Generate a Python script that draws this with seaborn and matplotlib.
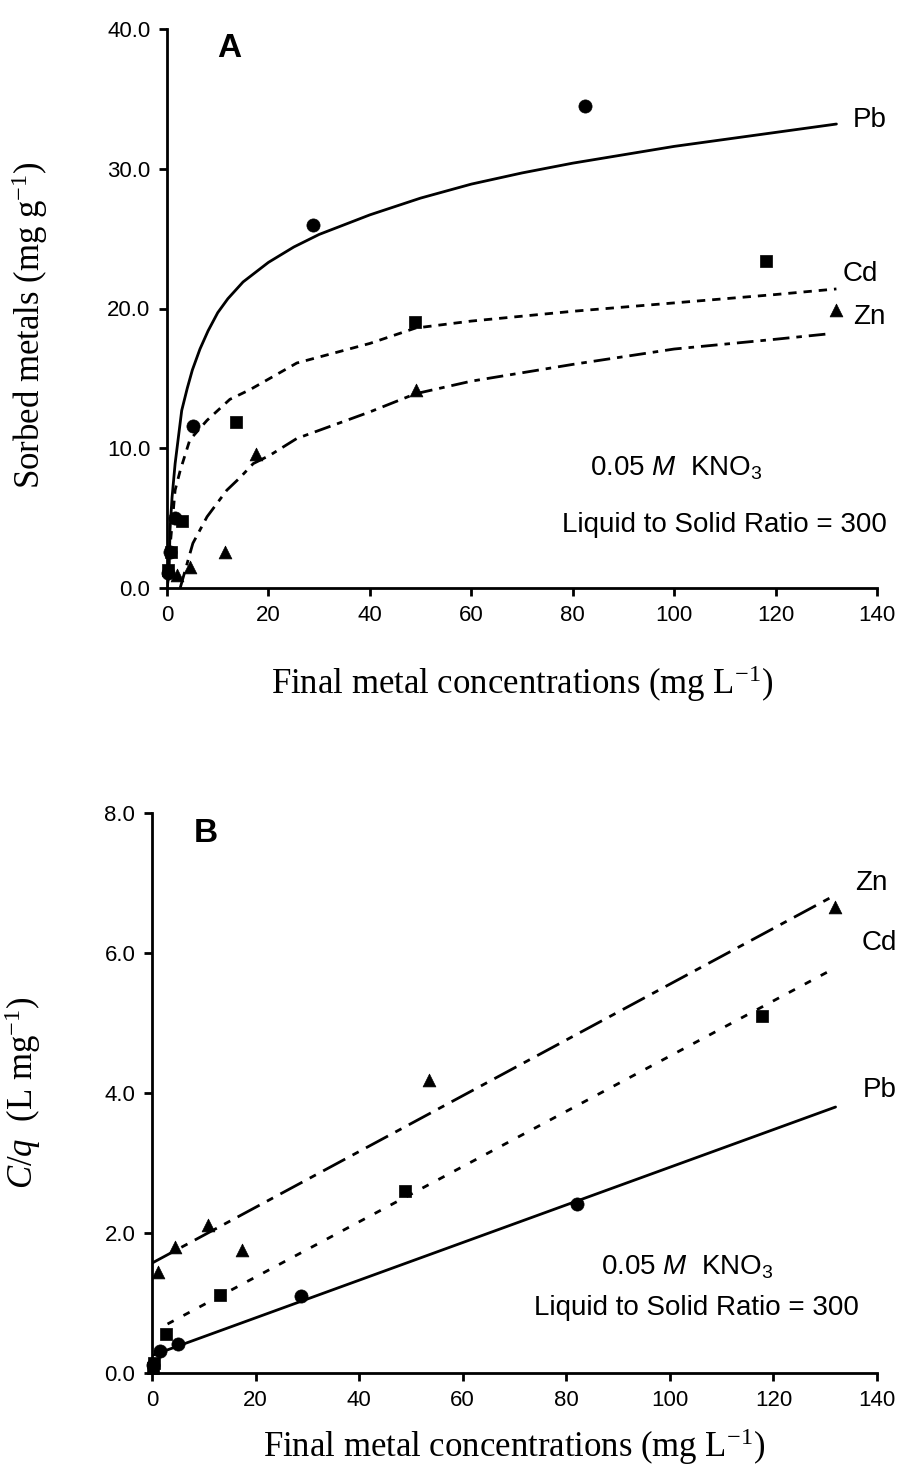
import numpy as np
import pandas as pd
import matplotlib
matplotlib.use("Agg")
import matplotlib.pyplot as plt
import seaborn as sns

# %% dados

# Painel A - pontos medidos (C final, metal sorvido)
pb_a_x = [0.1, 0.5, 1.6, 5.2, 28.8, 82.4]
pb_a_y = [1.1, 2.6, 5.0, 11.6, 26.0, 34.5]
cd_a_x = [0.2, 0.7, 3.0, 13.6, 48.9, 118.1]
cd_a_y = [1.3, 2.6, 4.8, 11.9, 19.0, 23.4]
zn_a_x = [1.9, 4.5, 11.4, 17.6, 49.0, 132.0]
zn_a_y = [0.9, 1.5, 2.6, 9.6, 14.2, 19.9]

# Painel A - curvas ajustadas
pb_fit_x = [0.0, 0.4, 0.6, 1.0, 1.6, 2.9, 4.0, 5.0, 6.5, 8.1, 10, 12, 15, 20, 25, 30, 40, 50, 60, 70,
            80, 90, 100, 110, 120, 132]
pb_fit_y = [0.0, 1.0, 4.2, 6.5, 8.9, 12.7, 14.3, 15.6, 17.1, 18.4, 19.7, 20.7, 21.9, 23.3, 24.4, 25.3,
            26.7, 27.9, 28.9, 29.7, 30.4, 31.0, 31.6, 32.1, 32.6, 33.2]
cd_fit_x = [0.2, 1.6, 2.6, 4.5, 7.9, 12.4, 16.4, 25.6, 40, 49, 60, 80, 100, 120, 132]
cd_fit_y = [1.3, 7.0, 8.4, 10.6, 12.0, 13.5, 14.2, 16.1, 17.5, 18.6, 19.1, 19.8, 20.4, 21.0, 21.4]
zn_fit_x = [2.6, 5.1, 7.9, 11.8, 14.4, 17.0, 20.3, 25.6, 40, 49, 60, 80, 100, 120, 130.8]
zn_fit_y = [0.0, 3.2, 5.1, 7.0, 7.9, 8.9, 9.5, 10.7, 12.6, 13.9, 14.8, 16.0, 17.1, 17.8, 18.2]

# Painel B - linearização C/q
pb_b_x = [0.2, 1.5, 5.1, 28.8, 82.1]
pb_b_y = [0.12, 0.32, 0.42, 1.1, 2.42]
cd_b_x = [0.1, 0.3, 2.7, 13.2, 48.8, 117.8]
cd_b_y = [0.07, 0.15, 0.56, 1.12, 2.6, 5.1]
zn_b_x = [1.2, 4.4, 10.9, 17.3, 53.5, 131.9]
zn_b_y = [1.45, 1.8, 2.12, 1.76, 4.18, 6.66]

# Painel B - retas (extremos)
pb_line_x = [0.0, 132.0]
pb_line_y = [0.25, 3.8]
cd_line_x = [3.0, 132.0]
cd_line_y = [0.7, 5.79]
zn_line_x = [0.0, 132.0]
zn_line_y = [1.57, 6.83]

x_ticks = [0, 20, 40, 60, 80, 100, 120, 140]
ya_ticks = [0, 10, 20, 30, 40]
yb_ticks = [0, 2, 4, 6, 8]

# %% estilo
sns.set_style("ticks")
plt.rcParams["font.family"] = ["Liberation Sans", "DejaVu Sans"]
plt.rcParams["mathtext.fontset"] = "custom"
plt.rcParams["mathtext.rm"] = "Liberation Serif"
plt.rcParams["mathtext.it"] = "Liberation Serif:italic"
plt.rcParams["mathtext.sf"] = "Liberation Sans:italic"
for k in ["text.color", "axes.labelcolor", "xtick.color", "ytick.color", "axes.edgecolor"]:
    plt.rcParams[k] = "black"

SERIF = ["Liberation Serif", "DejaVu Serif"]
LW = 2.0

fig = plt.figure(figsize=(9.01, 14.64), dpi=100)
ax_a = fig.add_axes([167 / 901, 876 / 1464, 710 / 901, 559 / 1464])
ax_b = fig.add_axes([152 / 901, 91 / 1464, 725 / 901, 560 / 1464])


def pontos(ax, xs, ys, marker, size):
    sns.scatterplot(x=xs, y=ys, ax=ax, marker=marker, s=size, color="black",
                    edgecolor="black", linewidth=0.5, clip_on=False, zorder=5, legend=False)


def curva(ax, xs, ys, ls):
    sns.lineplot(x=xs, y=ys, ax=ax, color="black", linewidth=LW, linestyle=ls,
                 sort=False, estimator=None, legend=False)


def eixos(ax, ylim, yticks):
    ax.set_xlim(0, 140)
    ax.set_ylim(*ylim)
    ax.set_xticks(x_ticks)
    ax.set_xticklabels([str(t) for t in x_ticks], fontsize=16)
    ax.set_yticks(yticks)
    ax.set_yticklabels([f"{t:.1f}" for t in yticks], fontsize=16)
    sns.despine(ax=ax)
    for s in ["left", "bottom"]:
        ax.spines[s].set_linewidth(2.0)
    ax.tick_params(direction="out", length=6, width=2.0, pad=6)


# %% Painel A
curva(ax_a, pb_fit_x, pb_fit_y, "-")
curva(ax_a, cd_fit_x, cd_fit_y, (0, (3, 2.5)))
curva(ax_a, zn_fit_x, zn_fit_y, (0, (6, 2.5, 2, 2.5)))
pontos(ax_a, pb_a_x, pb_a_y, "o", 90)
pontos(ax_a, cd_a_x, cd_a_y, "s", 72)
pontos(ax_a, zn_a_x, zn_a_y, "^", 85)
eixos(ax_a, (0, 40), ya_ticks)

ax_a.text(0.07, 0.965, "A", transform=ax_a.transAxes, fontsize=24, fontweight="bold", va="center")
ax_a.text(135.3, 33.5, "Pb", fontsize=20, va="center")
ax_a.text(133.3, 22.5, "Cd", fontsize=20, va="center")
ax_a.text(135.3, 19.4, "Zn", fontsize=20, va="center")
ax_a.text(100.4, 8.6, r"0.05 $\mathsf{M}$  KNO$\mathregular{_3}$", fontsize=20, ha="center", va="center")
ax_a.text(109.9, 4.5, "Liquid to Solid Ratio = 300", fontsize=20, ha="center", va="center")
ax_a.set_xlabel(r"Final metal concentrations (mg L$\mathregular{^{-1}}$)", fontsize=25, family=SERIF)
ax_a.set_ylabel(r"Sorbed metals (mg g$\mathregular{^{-1}}$)", fontsize=25, family=SERIF)
ax_a.xaxis.set_label_coords(0.5, -0.135)
ax_a.yaxis.set_label_coords(-0.165, 0.47)

# %% Painel B
curva(ax_b, pb_line_x, pb_line_y, "-")
curva(ax_b, cd_line_x, cd_line_y, (0, (2.5, 4)))
curva(ax_b, zn_line_x, zn_line_y, (0, (9, 3, 2.5, 3)))
pontos(ax_b, pb_b_x, pb_b_y, "o", 90)
pontos(ax_b, cd_b_x, cd_b_y, "s", 72)
pontos(ax_b, zn_b_x, zn_b_y, "^", 85)
eixos(ax_b, (0, 8), yb_ticks)

ax_b.text(0.057, 0.964, "B", transform=ax_b.transAxes, fontsize=24, fontweight="bold", va="center")
ax_b.text(135.7, 7.0, "Zn", fontsize=20, va="center")
ax_b.text(137.0, 6.14, "Cd", fontsize=20, va="center")
ax_b.text(137.3, 4.04, "Pb", fontsize=20, va="center")
ax_b.text(103.3, 1.51, r"0.05 $\mathsf{M}$  KNO$\mathregular{_3}$", fontsize=20, ha="center", va="center")
ax_b.text(105.2, 0.93, "Liquid to Solid Ratio = 300", fontsize=20, ha="center", va="center")
ax_b.set_xlabel(r"Final metal concentrations (mg L$\mathregular{^{-1}}$)", fontsize=25, family=SERIF)
ax_b.set_ylabel(r"$\mathit{C/q}$  (L mg$\mathregular{^{-1}}$)", fontsize=25, family=SERIF)
ax_b.xaxis.set_label_coords(0.5, -0.095)
ax_b.yaxis.set_label_coords(-0.15, 0.5)

fig.savefig("out.png", dpi=100)
